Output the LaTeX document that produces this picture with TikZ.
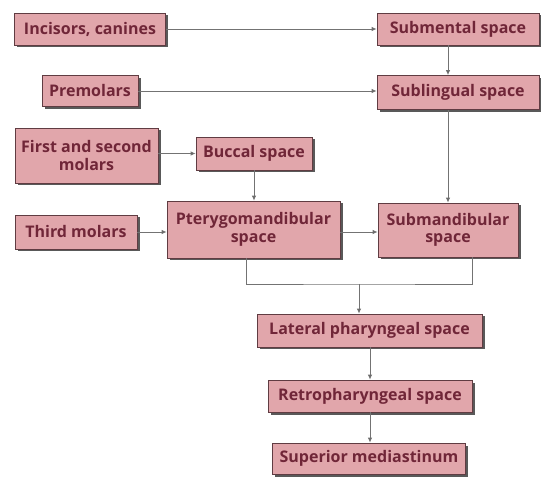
\documentclass[tikz,border=0pt]{standalone}
\usepackage{fontspec}
\setmainfont{Open Sans}
\usetikzlibrary{arrows.meta,shadows}
\definecolor{boxfill}{RGB}{225,166,171}
\definecolor{boxtext}{RGB}{112,38,56}
\definecolor{boxline}{RGB}{96,60,66}
\tikzset{
  space/.style={draw=boxline,line width=0.7pt,fill=boxfill,text=boxtext,
    font=\bfseries\fontsize{16}{17.5}\selectfont,align=center,inner sep=1pt,
    drop shadow={shadow xshift=2.5pt,shadow yshift=-2.5pt,fill=black!65,opacity=1}},
  link/.style={draw=black!55,line width=0.9pt,-{Latex[length=5pt,width=4.5pt,fill=black!80]}},
  joint/.style={draw=black!55,line width=0.9pt}
}
\begin{document}
\begin{tikzpicture}[x=1pt,y=1pt]
\useasboundingbox (0,0) rectangle (541,477);
% teeth
\node[space,minimum width=151pt,minimum height=32pt] (inc) at (90,448) {Incisors, canines};
\node[space,minimum width=96pt,minimum height=31pt] (prem) at (90,386) {Premolars};
\node[space,minimum width=143pt,minimum height=55pt] (first) at (86.5,321.5) {First and second\\molars};
\node[space,minimum width=122pt,minimum height=34pt] (third) at (76,245) {Third molars};
% spaces
\node[space,minimum width=162pt,minimum height=32pt] (subm) at (458,448) {Submental space};
\node[space,minimum width=162pt,minimum height=34pt] (subl) at (458,384.5) {Sublingual space};
\node[space,minimum width=116pt,minimum height=33pt] (bucc) at (254,323.5) {Buccal space};
\node[space,minimum width=173pt,minimum height=57pt] (ptery) at (253.5,247.5) {Pterygomandibular\\space};
\node[space,minimum width=140pt,minimum height=54pt] (submand) at (448,247) {Submandibular\\space};
\node[space,minimum width=225pt,minimum height=33pt] (lat) at (369.5,146.5) {Lateral pharyngeal space};
\node[space,minimum width=204pt,minimum height=32pt] (retro) at (370,81) {Retropharyngeal space};
\node[space,minimum width=193pt,minimum height=31pt] (sup) at (369,18.5) {Superior mediastinum};
\coordinate (join) at (359,193);
% connectors
\draw[link] (inc.east) -- (subm.west);
\draw[link] (prem.east) -- (prem.east -| subl.west);
\draw[link] (bucc.west -| first.east) -- (bucc.west);
\draw[link] (third.east) -- (third.east -| ptery.west);
\draw[link] (third.east -| ptery.east) -- (third.east -| submand.west);
\draw[link] (subm.south -| submand.north) -- (subl.north -| submand.north);
\draw[link] (subl.south -| submand.north) -- (submand.north);
\draw[link] (bucc.south) -- (bucc.south |- ptery.north);
\draw[joint] ([xshift=-7pt]ptery.south) |- (join) -| ([xshift=24pt]submand.south);
\draw[link] (join) -- (join |- lat.north);
\draw[link] (lat.south -| retro.north) -- (retro.north);
\draw[link] (retro.south) -- (retro.south |- sup.north);
\end{tikzpicture}
\end{document}
